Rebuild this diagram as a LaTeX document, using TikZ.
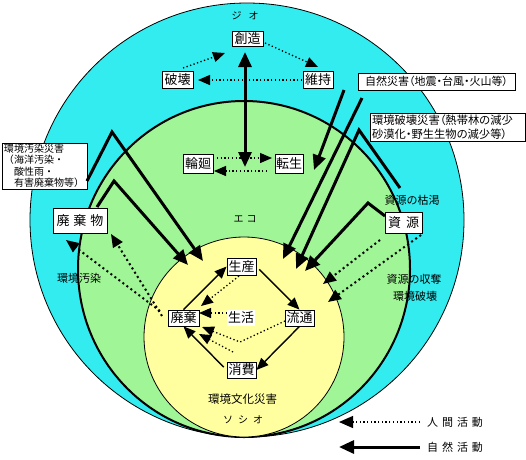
\documentclass[tikz,border=0pt]{standalone}
\usepackage{fontspec}
\newfontfamily\jp{Noto Sans CJK JP}
\newfontfamily\jpp[RawFeature=+palt]{Noto Sans CJK JP}
\usetikzlibrary{arrows.meta}
\definecolor{cyanbg}{RGB}{51,236,240}
\definecolor{greenbg}{RGB}{160,245,150}
\definecolor{yellowbg}{RGB}{255,255,160}
\begin{document}
\begin{tikzpicture}[x=1pt,y=-1pt,
  box/.style={draw, fill=white, line width=0.8pt, inner sep=0pt, minimum width=30pt, minimum height=17pt, font=\fontsize{13}{13}\jp},
  lab/.style={font=\fontsize{11}{11}\jp, inner sep=0pt},
  thickarrow/.style={line width=3pt, line join=miter, -{Triangle[length=15pt,width=13pt]}},
  thinarrow/.style={line width=1.4pt, -{Triangle[length=12pt,width=10pt]}},
  dotarrow/.style={line width=1.3pt, dash pattern=on 1.3pt off 2.4pt, -{Triangle[length=12pt,width=10pt]}},
  bigdotarrow/.style={line width=2pt, dash pattern=on 2pt off 3pt, -{Triangle[length=13pt,width=11pt]}}
]
\useasboundingbox (0,0) rectangle (526,459);
% circles
\fill[cyanbg] (247,220) ellipse [x radius=217, y radius=217];
\draw[line width=0.8pt] (247,220) ellipse [x radius=217, y radius=217];
\fill[greenbg] (244,269) ellipse [x radius=166, y radius=168];
\draw[line width=2pt] (244,269) ellipse [x radius=166, y radius=168];
\fill[yellowbg] (244,337) ellipse [x radius=100, y radius=100];
\draw[line width=0.8pt] (244,337) ellipse [x radius=100, y radius=100];

% region labels
\node[lab, font=\fontsize{10}{10}\jp] (jio) at (245,16) {ジ\hspace{7pt}オ};
\node[lab, font=\fontsize{10}{10}\jp] (eco) at (245,219) {エ\hspace{3pt}コ};
\node[lab, font=\fontsize{10}{10}\jp] (socio) at (243,420) {ソ\hspace{5pt}シ\hspace{5pt}オ};
\node[lab, font=\fontsize{11.5}{11.5}\jp] (bunka) at (242.5,399) {環境文化災害};
\node[lab] (koketsu) at (412,200) {資源の枯渇};
\node[lab] (shudatsu) at (414,279) {資源の収奪};
\node[lab] (khakai) at (415,296) {環境破壊};
\node[lab] (kosen) at (79,278) {環境汚染};

% boxes
\node[box, minimum width=31pt, minimum height=15pt] (sozo) at (247.5,38.5) {創造};
\node[box, minimum width=31pt] (hakai) at (177.5,79.5) {破壊};
\node[box] (iji) at (318,79.5) {維持};
\node[box, minimum height=19pt] (rinne) at (198,163.5) {輪廻};
\node[box, minimum width=28pt, minimum height=19pt] (tensei) at (289,163.5) {転生};
\node[box, minimum width=29pt] (seisan) at (241.5,266.5) {生産};
\node[box, minimum width=31pt, minimum height=16pt] (haiki) at (183.5,318) {廃棄};
\node[box, draw=none, minimum width=28pt, minimum height=16pt] (seikatsu) at (241,318) {生活};
\node[box, minimum width=29pt, minimum height=16pt] (ryutsu) at (299.5,318) {流通};
\node[box, minimum width=29pt, minimum height=16pt] (shohi) at (241.5,370) {消費};
\node[box, minimum width=54pt, minimum height=25pt] (haikibutsu) at (80,220.5) {廃\hspace{4pt}棄\hspace{4pt}物};
\node[box, minimum width=37pt, minimum height=21pt] (shigen) at (403.5,222.5) {資\hspace{5pt}源};

\node[box, minimum width=157pt, minimum height=17pt, font=\fontsize{11}{11}\jpp] (shizen) at (436.5,81.5) {自然災害（地震・台風・火山等）};
\node[box, minimum width=155pt, minimum height=28pt, text width=151pt, align=left, font=\fontsize{11.3}{13.5}\jpp] (hsaigai) at (447.5,127) {環境破壊災害（熱帯林の減少\\砂漠化・野生生物の減少等）};
\node[box, minimum width=85pt, minimum height=46pt, text width=81pt, align=left, font=\fontsize{10}{11.5}\jp] (osen) at (44.5,166) {環境汚染災害\\（海洋汚染・\\\hspace{10pt}酸性雨・\\\hspace{10pt}有害廃棄物等）};

% legend texts
\node[lab, font=\fontsize{11}{11}\jp] (ningen) at (455,422.5) {人\hspace{4pt}間\hspace{4pt}活\hspace{4pt}動};
\node[lab, font=\fontsize{11}{11}\jp] (shizenk) at (455,447) {自\hspace{4pt}然\hspace{4pt}活\hspace{4pt}動};

% coordinates
\coordinate (t1) at (265,43);   \coordinate (t2) at (318,67);
\coordinate (t3) at (183,68);   \coordinate (t4) at (225,53);
\coordinate (t5) at (302,80);   \coordinate (t6) at (198,80);
\coordinate (r1) at (217,158);  \coordinate (r2) at (272,158);
\coordinate (r3) at (267,171);  \coordinate (r4) at (214,171);
\coordinate (v1) at (245,52);   \coordinate (v2) at (245,167);
\coordinate (n1) at (344,90);   \coordinate (n2) at (314,170);
\coordinate (n3) at (362,98);   \coordinate (n4) at (283,259);
\coordinate (h1) at (400,188);  \coordinate (h2) at (359,130);  \coordinate (h3) at (296,269);
\coordinate (s1) at (385,216);  \coordinate (s2) at (368,203);  \coordinate (s3) at (305,271);
\coordinate (o1) at (87,181);   \coordinate (o2) at (112,132);  \coordinate (o3) at (203,261);
\coordinate (w1) at (97,207);   \coordinate (w2) at (114,181);  \coordinate (w3) at (188,265);
\coordinate (d1) at (380,240);  \coordinate (d2) at (323,284);
\coordinate (d3) at (421,235);  \coordinate (d4) at (328,302);
\coordinate (e1) at (160,311);  \coordinate (e2) at (66,240);
\coordinate (e3) at (162,316);  \coordinate (e4) at (111,234);
\coordinate (c1) at (239,276);  \coordinate (c2) at (201,306);
\coordinate (c3) at (227,313);  \coordinate (c4) at (199,313);
\coordinate (c5) at (285,321);  \coordinate (c6) at (240,342);  \coordinate (c7) at (202,327);
\coordinate (c8) at (233,352);  \coordinate (c9) at (199,334);
\coordinate (L1) at (420,422);  \coordinate (L2) at (339,422);
\coordinate (L3) at (420,447);  \coordinate (L4) at (339,447);

% top dotted cycle
\draw[dotarrow] (t1) -- (t2);
\draw[dotarrow] (t3) -- (t4);
\draw[dotarrow] (t5) -- (t6);
\draw[dotarrow] (r1) -- (r2);
\draw[dotarrow] (r3) -- (r4);

% thick natural arrows
\draw[line width=3pt, {Triangle[length=15pt,width=13pt]}-{Triangle[length=15pt,width=13pt]}] (v1) -- (v2);
\draw[thickarrow] (n1) -- (n2);
\draw[thickarrow] (n3) -- (n4);
\draw[thickarrow] (h1) -- (h2) -- (h3);
\draw[thickarrow] (s1) -- (s2) -- (s3);
\draw[thickarrow] (o1) -- (o2) -- (o3);
\draw[thickarrow] (w1) -- (w2) -- (w3);

% human dotted arrows
\draw[bigdotarrow] (d1) -- (d2);
\draw[bigdotarrow] (d3) -- (d4);
\draw[bigdotarrow] (e1) -- (e2);
\draw[bigdotarrow] (e3) -- (e4);

% inner cycle
\draw[thinarrow] (haiki.north) -- (seisan.west);
\draw[thinarrow, shorten <=4pt] (seisan.east) -- (ryutsu.north);
\draw[thinarrow] (ryutsu.south) -- (shohi.east);
\draw[thinarrow, shorten <=4pt] (shohi.west) -- (haiki.south);
\draw[dotarrow] (c1) -- (c2);
\draw[dotarrow] (c3) -- (c4);
\draw[dotarrow] (c5) -- (c6) -- (c7);
\draw[dotarrow] (c8) -- (c9);

% legend arrows
\draw[dotarrow, -{Triangle[length=14pt,width=12pt]}] (L1) -- (L2);
\draw[thickarrow] (L3) -- (L4);
\end{tikzpicture}
\end{document}
